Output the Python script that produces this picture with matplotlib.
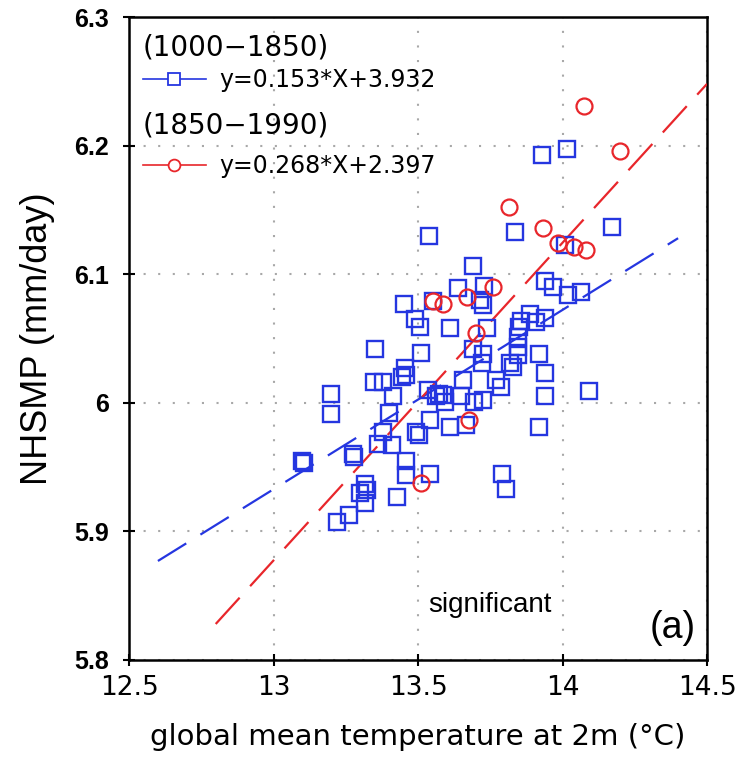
import matplotlib
matplotlib.use("Agg")
import matplotlib.pyplot as plt
from matplotlib import font_manager
from matplotlib.lines import Line2D

# ---------------- data ----------------
blue_T = [13.10, 13.105, 13.20, 13.20, 13.22, 13.26, 13.275, 13.28, 13.30, 13.315,
          13.325, 13.315, 13.346, 13.378, 13.35, 13.36, 13.378, 13.40, 13.41, 13.413,
          13.428, 13.445, 13.459, 13.455, 13.45, 13.457, 13.457, 13.488, 13.494, 13.505,
          13.508, 13.511, 13.534, 13.537, 13.54, 13.543, 13.551, 13.563, 13.574, 13.586,
          13.592, 13.609, 13.611, 13.638, 13.655, 13.65, 13.667, 13.69, 13.69, 13.695,
          13.713, 13.724, 13.724, 13.724, 13.72, 13.73, 13.738, 13.77, 13.787, 13.791,
          13.803, 13.82, 13.828, 13.837, 13.846, 13.846, 13.846, 13.851, 13.857, 13.886,
          13.909, 13.92, 13.918, 13.93, 13.938, 13.938, 13.938, 13.938, 13.966, 14.01,
          14.016, 14.018, 14.065, 14.09, 14.172]
blue_P = [5.955, 5.953, 6.007, 5.991, 5.907, 5.913, 5.960, 5.958, 5.930, 5.937,
          5.932, 5.922, 6.016, 6.016, 6.0415, 5.968, 5.977, 5.992, 5.967, 6.005,
          5.927, 6.020, 6.0215, 6.027, 6.077, 5.955, 5.944, 6.065, 5.977, 5.975,
          6.059, 6.039, 6.010, 6.130, 5.945, 5.9865, 6.079, 6.005, 6.007, 6.006,
          6.001, 5.981, 6.058, 6.089, 6.018, 6.005, 5.983, 6.106, 6.042, 6.001,
          6.080, 6.076, 6.038, 6.002, 6.031, 6.091, 6.058, 6.018, 6.012, 5.945,
          5.933, 6.031, 6.028, 6.133, 6.051, 6.0435, 6.037, 6.059, 6.064, 6.069,
          6.063, 6.038, 5.981, 6.1925, 6.095, 6.066, 6.023, 6.005, 6.090, 6.123,
          6.197, 6.084, 6.086, 6.009, 6.137]

red_T = [13.509, 13.678, 13.70, 13.551, 13.588, 13.669, 13.759, 13.814, 13.932, 13.984,
         14.04, 14.08, 14.075, 14.20]
red_P = [5.938, 5.987, 6.054, 6.079, 6.077, 6.082, 6.090, 6.152, 6.136, 6.124,
         6.121, 6.119, 6.231, 6.196]

# regression lines as drawn (end points)
blue_fit_T = [12.6, 14.4]
blue_fit_P = [5.877, 6.128]
red_fit_T = [12.8, 14.5]
red_fit_P = [5.828, 6.248]

x_ticks = [12.5, 13, 13.5, 14, 14.5]
x_ticklabels = ["12.5", "13", "13.5", "14", "14.5"]
y_ticks = [5.8, 5.9, 6.0, 6.1, 6.2, 6.3]
y_ticklabels = ["5.8", "5.9", "6", "6.1", "6.2", "6.3"]

period1 = "(1000\u22121850)"
eq1 = "y=0.153*X+3.932"
period2 = "(1850\u22121990)"
eq2 = "y=0.268*X+2.397"

BLUE = "#2536e0"
RED = "#e8262b"

names = {f.name for f in font_manager.fontManager.ttflist}
narrow = "Liberation Sans Narrow" if "Liberation Sans Narrow" in names else "DejaVu Sans"

fig = plt.figure(figsize=(7.36, 7.60), dpi=100)
ax = fig.add_axes([0.1753, 0.1316, 0.7853, 0.846])

ax.set_xlim(12.5, 14.5)
ax.set_ylim(5.8, 6.3)

ax.grid(True, color="#a8a8a8", linestyle=(0, (1, 6)), linewidth=1.5)
ax.set_axisbelow(True)

ax.plot(blue_fit_T, blue_fit_P, color=BLUE, lw=1.6, dashes=(15, 7.5), zorder=3)
ax.plot(red_fit_T, red_fit_P, color=RED, lw=1.6, dashes=(16, 7), zorder=3)

ax.plot(blue_T, blue_P, linestyle="none", marker="s", markersize=12,
        markerfacecolor="none", markeredgecolor=BLUE, markeredgewidth=1.7, zorder=4)
ax.plot(red_T, red_P, linestyle="none", marker="o", markersize=11.5,
        markerfacecolor="none", markeredgecolor=RED, markeredgewidth=1.6, zorder=5)

ax.set_xticks(x_ticks)
ax.set_xticklabels(x_ticklabels, fontsize=19, family=narrow)
ax.set_yticks(y_ticks)
ax.set_yticklabels(y_ticklabels, fontsize=18, fontweight="bold", family="Liberation Sans")
ax.tick_params(axis="both", direction="inout", length=9, width=1.5)
ax.tick_params(axis="y", pad=10)
ax.tick_params(axis="x", pad=6)

for s in ax.spines.values():
    s.set_linewidth(1.8)

ax.set_xlabel("global mean temperature at 2m (\u00b0C)", fontsize=21, family="DejaVu Sans",
              labelpad=16)
ax.set_ylabel("NHSMP (mm/day)", fontsize=26, family="Liberation Sans", labelpad=14)

# legend drawn by hand
tr = ax.transAxes
ax.text(0.024, 0.952, period1, transform=tr, fontsize=20, va="center", ha="left")
ax.add_line(Line2D([0.024, 0.133], [0.904, 0.904], transform=tr, color=BLUE, lw=1.2))
ax.add_line(Line2D([0.0785], [0.904], transform=tr, marker="s", markersize=8,
                   markerfacecolor="white", markeredgecolor=BLUE, markeredgewidth=1.3))
ax.text(0.157, 0.902, eq1, transform=tr, fontsize=17, va="center", ha="left")
ax.text(0.024, 0.832, period2, transform=tr, fontsize=20, va="center", ha="left")
ax.add_line(Line2D([0.024, 0.133], [0.770, 0.770], transform=tr, color=RED, lw=1.2))
ax.add_line(Line2D([0.0785], [0.770], transform=tr, marker="o", markersize=8.5,
                   markerfacecolor="white", markeredgecolor=RED, markeredgewidth=1.3))
ax.text(0.157, 0.768, eq2, transform=tr, fontsize=17, va="center", ha="left")

ax.text(0.625, 0.086, "significant", transform=tr, fontsize=20, family="Liberation Sans",
        ha="center", va="center")
ax.text(0.94, 0.05, "(a)", transform=tr, fontsize=27, family="Liberation Sans",
        ha="center", va="center")

fig.savefig("out.png", dpi=100)
